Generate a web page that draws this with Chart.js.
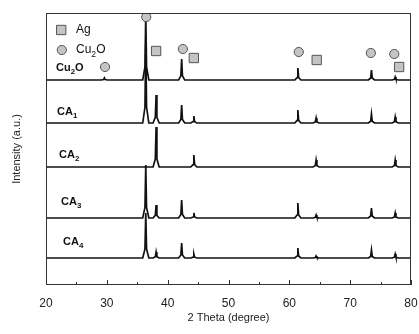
<!DOCTYPE html>
<html>
<head>
<meta charset="utf-8">
<script src="https://cdn.jsdelivr.net/npm/chart.js@4.4.1/dist/chart.umd.min.js"></script>
<style>
html,body{margin:0;padding:0;background:#fff;}
#wrap{width:419px;height:334px;position:relative;}
</style>
</head>
<body>
<div id="wrap"><canvas id="c" width="419" height="334"></canvas></div>
<script>
// 2θ positions of the diffraction peaks (degree)
const peakPos = [29.6, 36.4, 38.1, 42.3, 44.3, 61.4, 64.4, 73.5, 77.4];
// peak heights (a.u.) for each sample, same order as peakPos
const cu2oPeaks = [2, 66, 0, 21, 0, 12, 0, 10, 3];
const ca1Peaks  = [0, 80, 28, 18, 7, 13, 5, 9, 6];
const ca2Peaks  = [0, 0, 40, 0, 12, 0, 7, 0, 7];
const ca3Peaks  = [0, 53, 13, 18, 5, 15, 3, 10, 5];
const ca4Peaks  = [0, 45, 6, 15, 4, 10, 2, 8, 4];
// vertical stacking offset of each trace (a.u.)
const offsets = [205, 162, 118, 67, 27];
const seriesNames = ['Cu2O', 'CA1', 'CA2', 'CA3', 'CA4'];
// phase markers [2θ, height]
const cu2oMarkers = [[36.48, 268], [42.5, 236], [61.55, 233], [73.4, 232], [77.25, 231], [29.7, 218], [22.6, 235]];
const agMarkers   = [[38.1, 234], [44.3, 227], [64.5, 225], [78.05, 218], [22.5, 255]];

const allPeaks = [cu2oPeaks, ca1Peaks, ca2Peaks, ca3Peaks, ca4Peaks];

function buildTrace(heights, off) {
  const pts = [{x: 20, y: off}];
  peakPos.forEach((p, i) => {
    const h = heights[i];
    if (!h) return;
    pts.push({x: p - 0.5, y: off});
    pts.push({x: p - 0.13, y: off + 0.2 * h});
    pts.push({x: p, y: off + h});
    pts.push({x: p + 0.13, y: off + 0.2 * h});
    pts.push({x: p + 0.5, y: off});
  });
  pts.push({x: 80, y: off});
  return pts;
}

const datasets = allPeaks.map((h, i) => ({
  type: 'line',
  label: seriesNames[i],
  data: buildTrace(h, offsets[i]),
  borderColor: '#111',
  borderWidth: 1.7,
  pointRadius: 0,
  tension: 0,
  fill: false,
  order: 2
}));
datasets.push({
  type: 'scatter', label: 'Cu2O marker',
  data: cu2oMarkers.map(m => ({x: m[0], y: m[1]})),
  pointStyle: 'circle', pointRadius: 4.6, backgroundColor: '#c4c4c4', borderColor: '#555', borderWidth: 1, order: 1
});
datasets.push({
  type: 'scatter', label: 'Ag marker',
  data: agMarkers.map(m => ({x: m[0], y: m[1]})),
  pointStyle: 'rect', pointRadius: 6.6, backgroundColor: '#c4c4c4', borderColor: '#555', borderWidth: 1, order: 1
});

function subText(ctx, x, y, parts, size, bold) {
  const fam = '"Liberation Sans", Arial, sans-serif';
  let cx = x;
  parts.forEach(pt => {
    const sub = pt[1];
    const fs = sub ? size * 0.72 : size;
    ctx.font = (bold ? 'bold ' : '') + fs + 'px ' + fam;
    ctx.fillText(pt[0], cx, sub ? y + size * 0.35 : y);
    cx += ctx.measureText(pt[0]).width;
  });
}

const decor = {
  id: 'decor',
  afterDraw(chart) {
    const ctx = chart.ctx, a = chart.chartArea, xs = chart.scales.x;
    ctx.save();
    ctx.strokeStyle = '#333';
    ctx.lineWidth = 1;
    ctx.strokeRect(a.left + 0.5, a.top + 0.5, a.right - a.left - 1, a.bottom - a.top - 1);
    // inward ticks on bottom axis
    ctx.beginPath();
    for (let v = 20; v <= 80; v += 5) {
      const px = Math.round(xs.getPixelForValue(v)) + 0.5;
      const len = (v % 10 === 0) ? 5 : 3;
      ctx.moveTo(px, a.bottom);
      ctx.lineTo(px, a.bottom - len);
    }
    ctx.stroke();
    ctx.fillStyle = '#111';
    ctx.textBaseline = 'middle';
    ctx.textAlign = 'left';
    subText(ctx, 76, 30, [['Ag', false]], 12, false);
    subText(ctx, 76, 50, [['Cu', false], ['2', true], ['O', false]], 12, false);
    subText(ctx, 56, 68, [['Cu', false], ['2', true], ['O', false]], 11, true);
    subText(ctx, 57, 112, [['CA', false], ['1', true]], 11, true);
    subText(ctx, 59, 155, [['CA', false], ['2', true]], 11, true);
    subText(ctx, 61, 202, [['CA', false], ['3', true]], 11, true);
    subText(ctx, 63, 242, [['CA', false], ['4', true]], 11, true);
    ctx.restore();
  }
};

new Chart(document.getElementById('c'), {
  data: {datasets},
  options: {
    responsive: false,
    animation: false,
    devicePixelRatio: 1,
    layout: {padding: {left: 0, right: 8, top: 13, bottom: 0}},
    plugins: {legend: {display: false}, tooltip: {enabled: false}},
    scales: {
      x: {
        type: 'linear', min: 20, max: 80,
        ticks: {stepSize: 10, padding: 11, color: '#222', font: {size: 12, family: '"Liberation Sans", Arial, sans-serif'}},
        grid: {display: false, drawTicks: false},
        border: {display: false},
        title: {display: true, text: '2 Theta (degree)', color: '#222', font: {size: 11, family: '"Liberation Sans", Arial, sans-serif'}, padding: {top: 4, bottom: 9}},
        afterFit(s) { s.height = 49; s.paddingLeft = 0; s.paddingRight = 0; }
      },
      y: {
        type: 'linear', min: 0, max: 272,
        ticks: {display: false},
        grid: {display: false, drawTicks: false},
        border: {display: false},
        title: {display: true, text: 'Intensity (a.u.)', color: '#222', font: {size: 11, family: '"Liberation Sans", Arial, sans-serif'}, padding: {top: 10, bottom: 0}},
        afterFit(s) { s.width = 46; s.paddingTop = 0; s.paddingBottom = 0; }
      }
    }
  },
  plugins: [decor]
});
</script>
</body>
</html>
